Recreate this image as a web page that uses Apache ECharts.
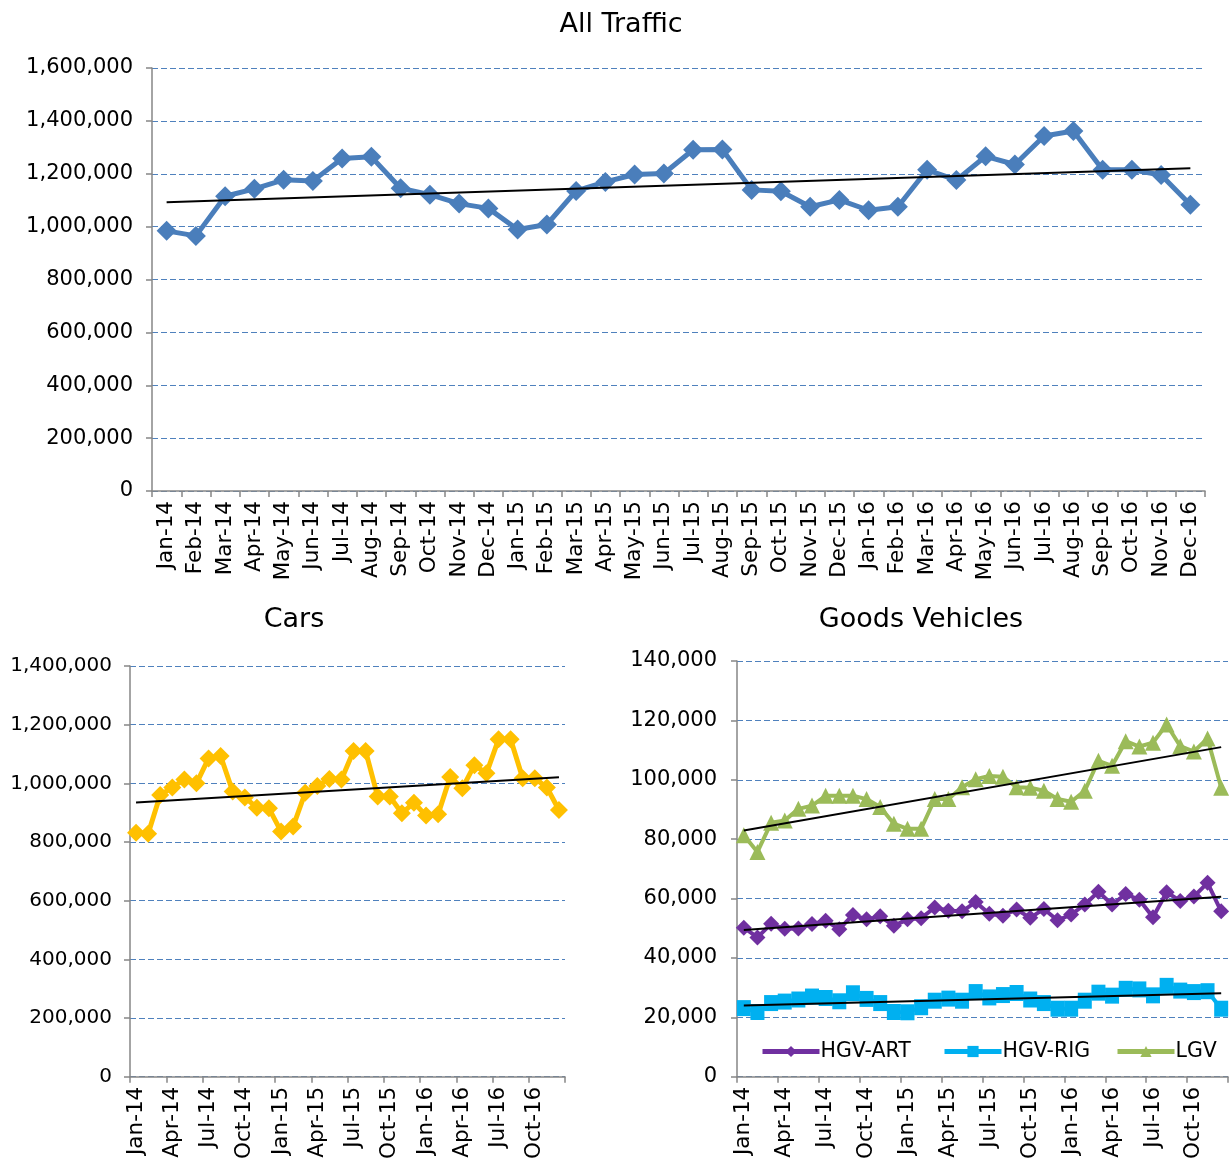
<!DOCTYPE html>
<html>
<head>
<meta charset="utf-8">
<title>Traffic</title>
<script src="https://cdn.jsdelivr.net/npm/echarts@6/dist/echarts.min.js"></script>
<style>
  html, body { margin: 0; padding: 0; background: #fff; }
  #chart { width: 1229px; height: 1162px; }
</style>
</head>
<body>
<div id="chart"></div>
<script>
  // months Jan-14 .. Dec-16
  let months = [
    'Jan-14', 'Feb-14', 'Mar-14', 'Apr-14', 'May-14', 'Jun-14', 'Jul-14', 'Aug-14', 'Sep-14', 'Oct-14', 'Nov-14', 'Dec-14',
    'Jan-15', 'Feb-15', 'Mar-15', 'Apr-15', 'May-15', 'Jun-15', 'Jul-15', 'Aug-15', 'Sep-15', 'Oct-15', 'Nov-15', 'Dec-15',
    'Jan-16', 'Feb-16', 'Mar-16', 'Apr-16', 'May-16', 'Jun-16', 'Jul-16', 'Aug-16', 'Sep-16', 'Oct-16', 'Nov-16', 'Dec-16'
  ];

  let allTraffic = [
    984000, 965000, 1115000, 1143000, 1177000, 1173000, 1258000, 1264000, 1145000, 1121000, 1087000, 1069000,
    989000, 1008000, 1135000, 1169000, 1197000, 1201000, 1291000, 1292000, 1139000, 1134000, 1075000, 1101000,
    1062000, 1075000, 1215000, 1176000, 1266000, 1235000, 1343000, 1362000, 1215000, 1215000, 1195000, 1083000
  ];
  let allTrend = [1092000, 1221000];

  let cars = [
    832000, 828000, 960000, 986000, 1013000, 1000000, 1085000, 1093000, 972000, 952000, 917000, 915000,
    836000, 853000, 968000, 991000, 1015000, 1013000, 1110000, 1110000, 955000, 955000, 898000, 934000,
    890000, 895000, 1022000, 983000, 1062000, 1034000, 1150000, 1150000, 1017000, 1017000, 986000, 909000
  ];
  let carsTrend = [935000, 1021000];

  let hgvArt = [
    50200, 46900, 51500, 49800, 49900, 51400, 52500, 49700, 54500, 53000, 54000, 50800,
    53000, 53400, 57000, 55900, 55700, 58800, 54900, 54200, 56300, 53500, 56500, 52700,
    54600, 58000, 62300, 58000, 61500, 59600, 53700, 62100, 59200, 60700, 65300, 55700
  ];
  let hgvRig = [
    23100, 21800, 24800, 25300, 26000, 27000, 26500, 25400, 28100, 26200, 24800, 21800,
    21700, 23400, 25600, 26300, 25600, 28500, 26700, 27500, 28200, 26000, 24800, 22900,
    22900, 25600, 28300, 27300, 29600, 29400, 27400, 30600, 29000, 28500, 28800, 22900
  ];
  let lgv = [
    81300, 75700, 85500, 86300, 90200, 91300, 94600, 94600, 94600, 93500, 90800, 85200,
    83500, 83500, 93500, 93500, 97500, 100200, 101300, 101000, 97500, 97300, 96300, 93500,
    92600, 96300, 106400, 104700, 113000, 111200, 112500, 118600, 111300, 109500, 113900, 97300
  ];
  let artTrend = [49400, 60600];
  let rigTrend = [24000, 28100];
  let lgvTrend = [82900, 111000];

  let goodsNames = ['HGV-ART', 'HGV-RIG', 'LGV'];

  let allTicks = [0, 200000, 400000, 600000, 800000, 1000000, 1200000, 1400000, 1600000];
  let carTicks = [0, 200000, 400000, 600000, 800000, 1000000, 1200000, 1400000];
  let goodsTicks = [0, 20000, 40000, 60000, 80000, 100000, 120000, 140000];

  let fontFamily = '"DejaVu Sans", Verdana, sans-serif';
  let axisGrey = '#868686';
  let gridBlue = '#4F81BD';

  // straight trend line between first and last month
  function trendData(ends) {
    let arr = months.map(() => null);
    arr[0] = ends[0];
    arr[months.length - 1] = ends[1];
    return arr;
  }

  function fmt(v) {
    return v.toLocaleString('en-US');
  }

  function yAxisFor(idx, ticks, size, margin) {
    return {
      type: 'value',
      gridIndex: idx,
      min: ticks[0],
      max: ticks[ticks.length - 1],
      interval: ticks[1] - ticks[0],
      axisLine: { show: true, lineStyle: { color: axisGrey, width: 1.5 } },
      axisTick: { show: true, length: 6, lineStyle: { color: axisGrey, width: 1.5 } },
      axisLabel: { margin: margin, color: '#000', fontSize: size, fontFamily: fontFamily, formatter: fmt },
      splitLine: { show: true, lineStyle: { color: gridBlue, type: [6, 3], width: 1.2 } }
    };
  }

  function xAxisFor(idx, step) {
    return {
      type: 'category',
      gridIndex: idx,
      data: months,
      boundaryGap: true,
      axisLine: { show: true, onZero: false, lineStyle: { color: axisGrey, width: 1.5 } },
      axisTick: { show: true, length: 6, interval: step, lineStyle: { color: axisGrey, width: 1.5 } },
      axisLabel: { rotate: 90, interval: step, margin: 10, color: '#000', fontSize: 21.5, fontFamily: fontFamily },
      splitLine: { show: false }
    };
  }

  function trendSeries(idx, ends) {
    return {
      type: 'line',
      xAxisIndex: idx,
      yAxisIndex: idx,
      data: trendData(ends),
      connectNulls: true,
      symbol: 'none',
      silent: true,
      lineStyle: { color: '#000', width: 2 },
      z: 5
    };
  }

  // one legend box per goods series so each sits where the original puts it
  let legendLefts = [760, 942, 1115];
  function legendFor(i) {
    return {
      data: [goodsNames[i]],
      left: legendLefts[i],
      top: 1041,
      padding: 0,
      itemWidth: 57,
      itemHeight: 14,
      lineStyle: { width: 5 },
      textStyle: { fontSize: 20.5, color: '#000', fontFamily: fontFamily, padding: [0, 0, 0, -4] }
    };
  }

  let titleStyle = { fontSize: 27, fontWeight: 'normal', color: '#000', fontFamily: fontFamily };

  let chart = echarts.init(document.getElementById('chart'));

  let options = {
    animation: false,
    backgroundColor: '#ffffff',
    textStyle: { fontFamily: fontFamily },
    title: [
      { text: 'All Traffic', left: 621, top: 11, padding: 0, textAlign: 'center', textStyle: titleStyle },
      { text: 'Cars', left: 294, top: 606, padding: 0, textAlign: 'center', textStyle: titleStyle },
      { text: 'Goods Vehicles', left: 921, top: 606, padding: 0, textAlign: 'center', textStyle: titleStyle }
    ],
    legend: [legendFor(0), legendFor(1), legendFor(2)],
    grid: [
      { left: 152, top: 68, width: 1053, height: 423 },
      { left: 130, top: 666, width: 435, height: 412 },
      { left: 737, top: 661, width: 491, height: 417 }
    ],
    xAxis: [xAxisFor(0, 0), xAxisFor(1, 2), xAxisFor(2, 2)],
    yAxis: [yAxisFor(0, allTicks, 21, 19), yAxisFor(1, carTicks, 20, 18), yAxisFor(2, goodsTicks, 21, 20)],
    series: [
      {
        name: 'All Traffic', type: 'line', xAxisIndex: 0, yAxisIndex: 0, data: allTraffic,
        symbol: 'diamond', symbolSize: 20, showAllSymbol: true,
        itemStyle: { color: '#4A7EBB' }, lineStyle: { color: '#4A7EBB', width: 5 }
      },
      trendSeries(0, allTrend),
      {
        name: 'Cars', type: 'line', xAxisIndex: 1, yAxisIndex: 1, data: cars,
        symbol: 'diamond', symbolSize: 18, showAllSymbol: true,
        itemStyle: { color: '#FFC000' }, lineStyle: { color: '#FFC000', width: 5 }
      },
      trendSeries(1, carsTrend),
      {
        name: 'HGV-ART', type: 'line', xAxisIndex: 2, yAxisIndex: 2, data: hgvArt,
        symbol: 'diamond', symbolSize: 16, showAllSymbol: true,
        itemStyle: { color: '#7030A0' }, lineStyle: { color: '#7030A0', width: 4 }
      },
      {
        name: 'HGV-RIG', type: 'line', xAxisIndex: 2, yAxisIndex: 2, data: hgvRig,
        symbol: 'rect', symbolSize: [14, 16], showAllSymbol: true,
        itemStyle: { color: '#00B0F0' }, lineStyle: { color: '#00B0F0', width: 4 }
      },
      {
        name: 'LGV', type: 'line', xAxisIndex: 2, yAxisIndex: 2, data: lgv,
        symbol: 'triangle', symbolSize: 16, showAllSymbol: true,
        itemStyle: { color: '#9BBB59' }, lineStyle: { color: '#9BBB59', width: 4 }
      },
      trendSeries(2, artTrend),
      trendSeries(2, rigTrend),
      trendSeries(2, lgvTrend)
    ]
  };

  chart.setOption(options);
</script>
</body>
</html>
